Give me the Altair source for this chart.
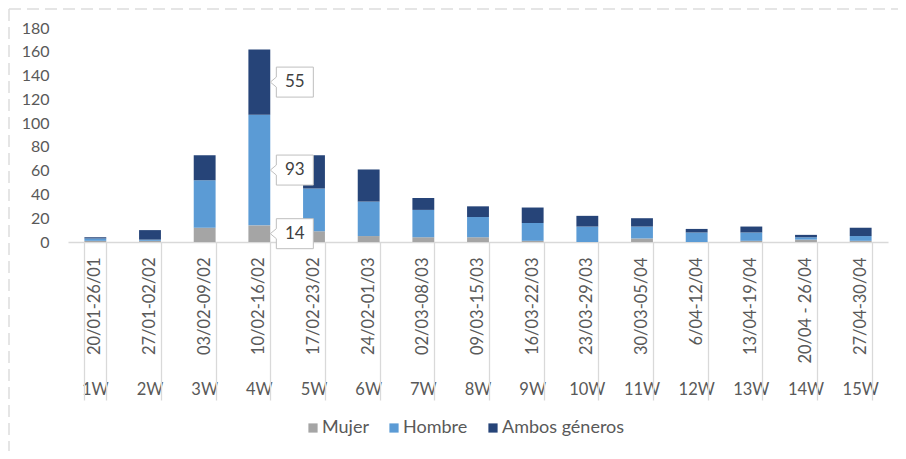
import json
import altair as alt
import pandas as pd

# ---------------- data ----------------
semanas = ["1W", "2W", "3W", "4W", "5W", "6W", "7W", "8W", "9W", "10W",
           "11W", "12W", "13W", "14W", "15W"]
fechas = ["20/01-26/01", "27/01-02/02", "03/02-09/02", "10/02-16/02",
          "17/02-23/02", "24/02-01/03", "02/03-08/03", "09/03-15/03",
          "16/03-22/03", "23/03-29/03", "30/03-05/04", "6/04-12/04",
          "13/04-19/04", "20/04 - 26/04", "27/04-30/04"]
mujer = [1, 1, 12, 14, 9, 5, 4, 4, 1, 0, 3, 0, 1, 2, 1]
hombre = [2, 1, 40, 93, 36, 29, 23, 17, 15, 13, 10, 8, 7, 2, 4]
ambos = [1, 8, 21, 55, 28, 27, 10, 9, 13, 9, 7, 3, 5, 2, 7]
series = ["Mujer", "Hombre", "Ambos géneros"]
colores = ["#A5A5A5", "#5B9BD5", "#264478"]
semana_etiquetada = "4W"
y_ticks = [0, 20, 40, 60, 80, 100, 120, 140, 160, 180]

rows = []
for i, s in enumerate(semanas):
    base = 0
    for k, (nombre, vals) in enumerate(zip(series, [mujer, hombre, ambos])):
        v = vals[i]
        rows.append({"semana": s, "serie": nombre, "valor": v, "orden": k,
                     "medio": base + v / 2})
        base += v
df = pd.DataFrame(rows)
etiquetas = df[df["semana"] == semana_etiquetada]
uno = pd.DataFrame({"k": [0]})

FONT = "Lato"
GRIS = "#595959"
LINEA = "#D9D9D9"

fecha_expr = "{}[indexof({}, datum.value)]".format(json.dumps(fechas), json.dumps(semanas))

x_scale = alt.Scale(domain=semanas, paddingInner=0.6, paddingOuter=0.3)
y_scale = alt.Scale(domain=[0, 180])
y_axis = alt.Axis(orient="left", values=y_ticks, domain=False, ticks=False, grid=False,
                  labelPadding=19, labelFont=FONT, labelFontSize=16, labelColor=GRIS)

barras = alt.Chart(df).mark_bar().encode(
    x=alt.X("semana:N", scale=x_scale, title=None,
            axis=alt.Axis(orient="bottom", labelExpr=fecha_expr, labelAngle=-90,
                          labelAlign="right", labelBaseline="middle", labelPadding=15,
                          ticks=False, domain=True, domainColor=LINEA, domainWidth=1.3,
                          grid=False, labelFont=FONT, labelFontSize=16.5,
                          labelColor=GRIS, labelOverlap=False)),
    y=alt.Y("valor:Q", stack="zero", scale=y_scale, title=None, axis=y_axis),
    color=alt.Color("serie:N", scale=alt.Scale(domain=series, range=colores),
                    legend=alt.Legend(title=None, orient="none", legendX=236, legendY=391,
                                      direction="horizontal", symbolType="square",
                                      symbolSize=85, symbolStrokeWidth=0,
                                      labelFont=FONT, labelFontSize=18,
                                      labelColor=GRIS, columnPadding=16,
                                      labelOffset=0)),
    order=alt.Order("orden:Q"),
)

callout = "M11,0 L17,-5 L17,-15 L54,-15 L54,15 L17,15 L17,5 Z"
cajas = alt.Chart(etiquetas).mark_point(
    shape=callout, size=4, filled=True, fill="white", stroke="#BFBFBF",
    strokeWidth=1, opacity=1
).encode(
    x=alt.X("semana:N", scale=x_scale, title=None,
            axis=alt.Axis(orient="bottom", ticks=False, domain=False, grid=False,
                          labelAngle=0, labelPadding=139, labelFont=FONT,
                          labelFontSize=16.5, labelColor=GRIS, labelOverlap=False)),
    y=alt.Y("medio:Q", scale=y_scale, title=None, axis=y_axis),
)

textos = alt.Chart(etiquetas).mark_text(
    dx=35.5, font=FONT, fontSize=17, color="#404040"
).encode(
    x=alt.X("semana:N", scale=x_scale, title=None,
            axis=alt.Axis(orient="bottom", labels=False, domain=False, ticks=True,
                          tickBand="extent", tickSize=158, tickColor=LINEA,
                          tickWidth=1.3, grid=False)),
    y=alt.Y("medio:Q", scale=y_scale, title=None, axis=y_axis),
    text=alt.Text("valor:Q"),
)

borde_h = alt.Chart(uno).mark_rule(stroke="#DDDDDD", strokeDash=[12, 6], strokeWidth=1.5).encode(
    x=alt.value(-59), x2=alt.value(830), y=alt.value(-19)
)
borde_v = alt.Chart(uno).mark_rule(stroke="#DDDDDD", strokeDash=[12, 6], strokeWidth=1.5).encode(
    x=alt.value(-59), y=alt.value(-19), y2=alt.value(423)
)

chart = alt.layer(barras, cajas, textos, borde_h, borde_v).resolve_axis(
    x="independent", y="shared"
).properties(
    width=820, height=214, autosize="none",
    padding={"left": 60, "top": 20, "right": 10, "bottom": 209},
).configure_view(stroke=None)

chart.save("out.html", embed_options={"renderer": "svg", "actions": False})
